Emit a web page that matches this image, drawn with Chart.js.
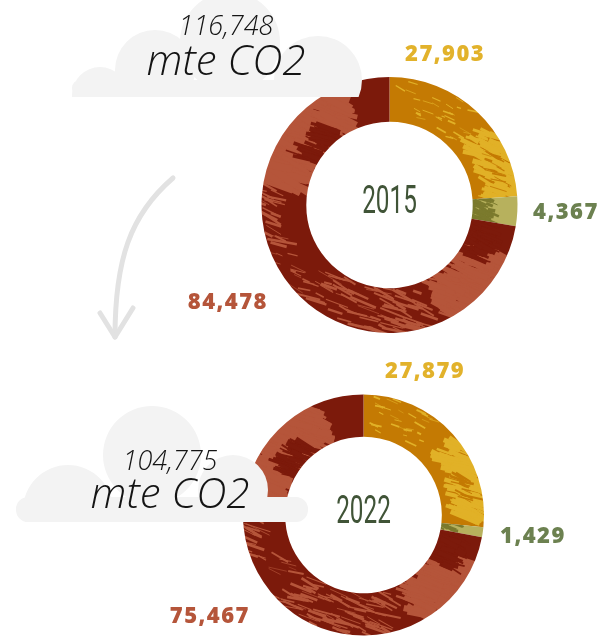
<!DOCTYPE html>
<html>
<head>
<meta charset="utf-8">
<script src="https://cdn.jsdelivr.net/npm/chart.js@4.4.1/dist/chart.umd.min.js"></script>
<style>
  html, body { margin: 0; padding: 0; background: #fff; }
  .wrap { position: relative; width: 598px; height: 636px; overflow: hidden; }
  canvas { position: absolute; left: 0; }
  #chart2015 { top: 0; }
  #chart2022 { top: 340px; }
</style>
</head>
<body>
<div class="wrap">
  <canvas id="chart2015" width="598" height="340"></canvas>
  <canvas id="chart2022" width="598" height="296"></canvas>
</div>
<script>
const years = ['2015', '2022'];
const sources = ['Amber', 'Olive', 'Rust'];
const values2015 = [27903, 4367, 84478];
const values2022 = [27879, 1429, 75467];
const unitLabel = 'mte CO2';

// base / alternate brush colour per segment, plus label colour
const palette = [
    {base: '#c47a03', alt: '#e1b127', label: '#e2b22b'},
    {base: '#b7b15d', alt: '#7b7a2d', label: '#6c8150'},
    {base: '#7c1a0b', alt: '#b5553a', label: '#b5553a'}
];

// brush streaks per segment: angle range (deg, clockwise from top), ring depth, count, size
const brushes = [
    [
        {a0: 52, a1: 92, r0: 0.78, r1: 1.02, n: 110, len: 24, w: 4, tone: 'alt'},
        {a0: 4, a1: 50, r0: 0.7, r1: 1.0, n: 30, len: 9, w: 1.5, tone: 'alt'},
        {a0: 62, a1: 82, r0: 0.84, r1: 0.92, n: 14, len: 16, w: 2, tone: 'base'}
    ],
    [
        {a0: 84, a1: 102, r0: 0.63, r1: 0.8, n: 40, len: 14, w: 3, tone: 'alt'}
    ],
    [
        {a0: 280, a1: 334, r0: 0.72, r1: 1.02, n: 260, len: 30, w: 6, tone: 'alt'},
        {a0: 298, a1: 322, r0: 0.66, r1: 0.8, n: 50, len: 22, w: 4, tone: 'base'},
        {a0: 250, a1: 280, r0: 0.88, r1: 1.02, n: 22, len: 22, w: 2.5, tone: 'alt'},
        {a0: 114, a1: 152, r0: 0.72, r1: 1.02, n: 180, len: 26, w: 5, tone: 'alt'},
        {a0: 100, a1: 122, r0: 0.64, r1: 0.84, n: 60, len: 20, w: 5, tone: 'base'},
        {a0: 160, a1: 222, r0: 0.66, r1: 1.0, n: 80, len: 20, w: 2.2, tone: 'alt'},
        {a0: 222, a1: 250, r0: 0.7, r1: 1.0, n: 14, len: 14, w: 1.5, tone: 'alt'}
    ]
];

const makeRng = seed => () => (seed = (seed * 16807) % 2147483647) / 2147483647;

const buildTexture = (chart, idx) => {
    const {left, right, top, bottom} = chart.chartArea;
    const cx = (left + right) / 2;
    const cy = (top + bottom) / 2;
    const R = Math.min(right - left, bottom - top) / 2;
    const tone = palette[idx];
    const off = document.createElement('canvas');
    off.width = chart.width;
    off.height = chart.height;
    const g = off.getContext('2d');
    const rnd = makeRng(idx * 977 + 131 + chart.id * 31);

    g.fillStyle = tone.base;
    g.fillRect(0, 0, off.width, off.height);
    brushes[idx].forEach(b => {
        g.strokeStyle = tone[b.tone];
        for (let i = 0; i < b.n; i++) {
            const a = (b.a0 + rnd() * (b.a1 - b.a0)) * Math.PI / 180;
            const rr = R * (b.r0 + rnd() * (b.r1 - b.r0));
            const px = cx + rr * Math.sin(a);
            const py = cy - rr * Math.cos(a);
            const dir = (22 + (rnd() - 0.5) * 24) * Math.PI / 180;
            const len = b.len * (0.4 + rnd());
            g.lineWidth = b.w * (0.3 + rnd());
            g.beginPath();
            g.moveTo(px - Math.cos(dir) * len / 2, py - Math.sin(dir) * len / 2);
            g.lineTo(px + Math.cos(dir) * len / 2, py + Math.sin(dir) * len / 2);
            g.stroke();
        }
    });
    return chart.ctx.createPattern(off, 'no-repeat');
};

const segmentFill = c => {
    const idx = c.dataIndex || 0;
    const chart = c.chart;
    // before layout there is no chart area yet: fall back to the flat colour
    if (c.type !== 'data' || !chart.chartArea) return palette[idx].base;
    chart.$tex = chart.$tex || [];
    if (!chart.$tex[idx]) chart.$tex[idx] = buildTexture(chart, idx);
    return chart.$tex[idx];
};

const fmt = v => v.toLocaleString('en-US');

const drawCloud = (ctx, cloud) => {
    ctx.save();
    ctx.beginPath();
    ctx.rect(0, 0, ctx.canvas.width, cloud.bottom);
    ctx.clip();
    ctx.fillStyle = '#f3f3f3';
    ctx.beginPath();
    cloud.puffs.forEach(([x, y, r]) => {
        ctx.moveTo(x + r, y);
        ctx.arc(x, y, r, 0, Math.PI * 2);
    });
    const [bx, by, bw, bh, br] = cloud.base;
    ctx.roundRect(bx, by, bw, bh, br);
    ctx.fill();
    ctx.restore();
};

const drawArrow = (ctx, a) => {
    ctx.save();
    ctx.strokeStyle = '#e2e2e2';
    ctx.lineWidth = 5;
    ctx.lineCap = 'round';
    ctx.lineJoin = 'round';
    ctx.beginPath();
    ctx.moveTo(...a.from);
    ctx.bezierCurveTo(...a.c1, ...a.c2, ...a.to);
    ctx.stroke();
    ctx.beginPath();
    ctx.moveTo(...a.wingL);
    ctx.lineTo(...a.to);
    ctx.lineTo(...a.wingR);
    ctx.stroke();
    ctx.restore();
};

const ringDecor = {
    id: 'ringDecor',
    afterDraw(chart, args, opts) {
        const {ctx} = chart;
        const arc = chart.getDatasetMeta(0).data[0];
        const {x, y} = arc;
        const values = chart.data.datasets[0].data;
        const total = values.reduce((s, v) => s + v, 0);

        if (opts.arrow) drawArrow(ctx, opts.arrow);
        drawCloud(ctx, opts.cloud);

        // handwritten total on the cloud
        ctx.save();
        ctx.fillStyle = '#141414';
        ctx.textAlign = 'center';
        ctx.textBaseline = 'alphabetic';
        ctx.font = 'italic 300 27px "Open Sans", Lato, sans-serif';
        ctx.fillText(fmt(total), opts.note.x, opts.note.y1);
        ctx.font = 'italic 300 42px "Open Sans", Lato, sans-serif';
        ctx.fillText(unitLabel, opts.note.x, opts.note.y2);
        ctx.restore();

        // year in the hole
        ctx.save();
        ctx.translate(x, y - 2);
        ctx.scale(0.64, 1);
        ctx.fillStyle = '#405437';
        ctx.font = '400 38px Roboto, sans-serif';
        ctx.textAlign = 'center';
        ctx.textBaseline = 'middle';
        ctx.fillText(opts.year, 0, 0);
        ctx.restore();

        // segment values
        ctx.save();
        ctx.font = '800 22px "Open Sans", Lato, sans-serif';
        ctx.letterSpacing = '1.5px';
        ctx.textBaseline = 'middle';
        values.forEach((v, i) => {
            const lab = opts.labels[i];
            ctx.fillStyle = palette[i].label;
            ctx.textAlign = lab.align;
            ctx.fillText(fmt(v), x + lab.dx, y + lab.dy);
        });
        ctx.restore();
    }
};

const makeRing = (id, year, values, padding, decor) => new Chart(document.getElementById(id), {
    type: 'doughnut',
    data: {
        labels: sources,
        datasets: [{
            data: values,
            backgroundColor: segmentFill,
            borderWidth: 0
        }]
    },
    options: {
        responsive: false,
        animation: false,
        events: [],
        cutout: '65%',
        layout: {padding},
        plugins: {
            legend: {display: false},
            tooltip: {enabled: false},
            ringDecor: Object.assign({year}, decor)
        }
    },
    plugins: [ringDecor]
});

makeRing('chart2015', years[0], values2015,
    {left: 261.5, right: 80.5, top: 77, bottom: 7},
    {
        labels: [
            {dx: 15.5, dy: -150, align: 'left'},
            {dx: 143.5, dy: 8, align: 'left'},
            {dx: -121.5, dy: 98, align: 'right'}
        ],
        cloud: {
            bottom: 97,
            base: [72, 80, 283, 17, 8],
            puffs: [[100, 95, 28], [155, 70, 40], [230, 42, 50], [318, 80, 44]]
        },
        note: {x: 226, y1: 35, y2: 75},
        arrow: {
            from: [173, 178], c1: [130, 215], c2: [115, 260], to: [115, 337],
            wingL: [100, 313], wingR: [133, 308]
        }
    });

makeRing('chart2022', years[1], values2022,
    {left: 243, right: 114, top: 54.5, bottom: 0.5},
    {
        labels: [
            {dx: 21.5, dy: -143, align: 'left'},
            {dx: 136.5, dy: 22, align: 'left'},
            {dx: -113.5, dy: 102, align: 'right'}
        ],
        cloud: {
            bottom: 182,
            base: [16, 157, 292, 25, 12],
            puffs: [[68, 170, 45], [152, 115, 49], [233, 150, 35]]
        },
        note: {x: 170, y1: 130, y2: 168}
    });
</script>
</body>
</html>
